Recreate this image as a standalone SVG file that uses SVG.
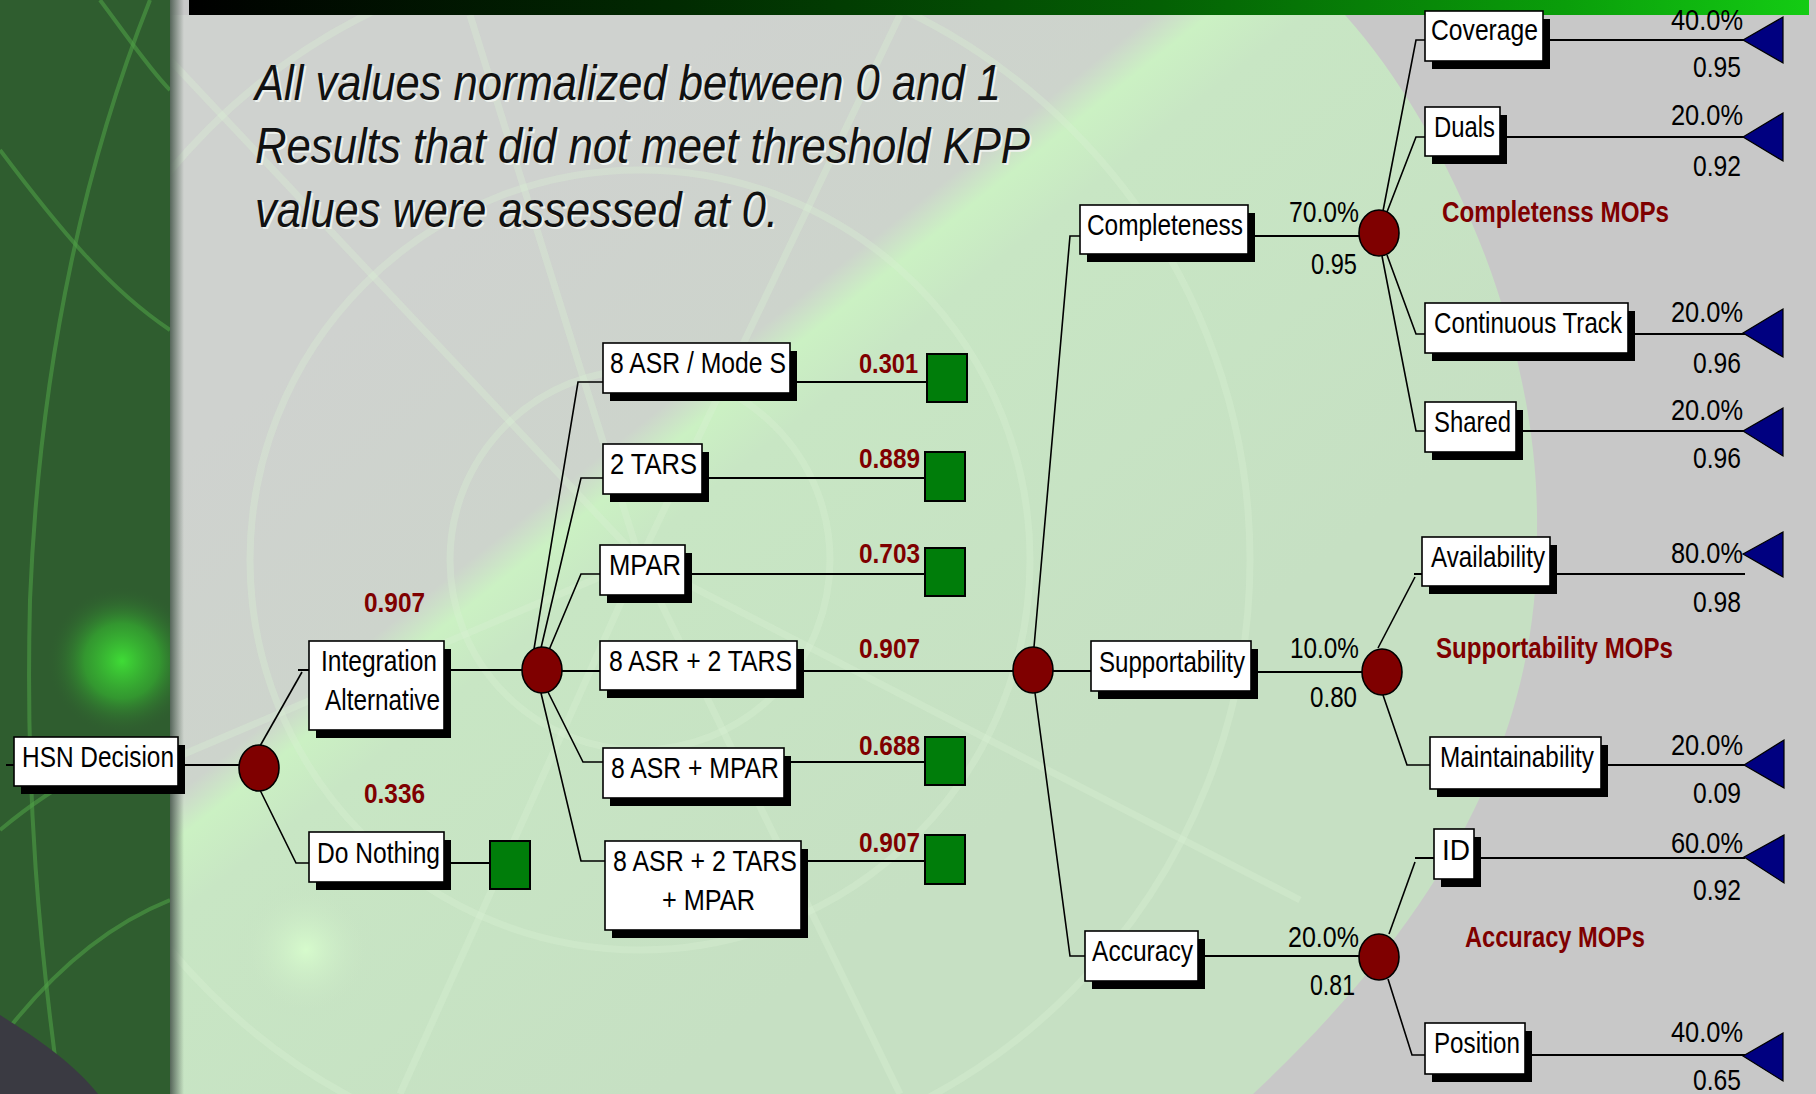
<svg xmlns="http://www.w3.org/2000/svg" width="1816" height="1094" viewBox="0 0 1816 1094">
<style>
.lbl{font-family:"Liberation Sans",Arial,sans-serif;font-size:29px;fill:#000;}
.val{font-family:"Liberation Sans",Arial,sans-serif;font-size:28px;font-weight:bold;fill:#7f0000;}
.mop{font-family:"Liberation Sans",Arial,sans-serif;font-size:29px;font-weight:bold;fill:#7f0000;}
.pct{font-family:"Liberation Sans",Arial,sans-serif;font-size:29px;fill:#000;}
.title{font-family:"Liberation Sans",Arial,sans-serif;font-size:50px;font-style:italic;fill:#111;}
.tsh{font-family:"Liberation Sans",Arial,sans-serif;font-size:50px;font-style:italic;fill:#eef2ee;}
.box{fill:#fff;stroke:#000;stroke-width:1.6;}
.sh{fill:#000;}
.chance{fill:#7f0000;stroke:#000;stroke-width:1.6;}
.term{fill:#007d0a;stroke:#000;stroke-width:2;}
.tri{fill:#000080;stroke:#000;stroke-width:1.2;}
.ln{fill:none;stroke:#000;stroke-width:2;}
.dg{fill:none;stroke:#000;stroke-width:1.6;}
.radar{fill:none;stroke:#daf0d4;stroke-width:7;opacity:0.35;}
.sradar{fill:none;stroke:#4e9e46;stroke-width:4;opacity:0.6;}
</style>
<defs>
<linearGradient id="topbar" x1="0" y1="0" x2="1" y2="0">
<stop offset="0" stop-color="#000000"/>
<stop offset="0.3" stop-color="#012a01"/>
<stop offset="0.6" stop-color="#046004"/>
<stop offset="0.85" stop-color="#0a9e0a"/>
<stop offset="1" stop-color="#14cc14"/>
</linearGradient>
<linearGradient id="sweep" gradientUnits="userSpaceOnUse" x1="738" y1="8" x2="1237" y2="633">
<stop offset="0" stop-color="#cfd2cf"/>
<stop offset="0.33" stop-color="#cdd4cc"/>
<stop offset="0.375" stop-color="#cbf1c3"/>
<stop offset="0.45" stop-color="#c8e6c4"/>
<stop offset="1" stop-color="#c6e0c3"/>
</linearGradient>
<linearGradient id="edge" x1="0" y1="0" x2="1" y2="0">
<stop offset="0" stop-color="#56665a"/>
<stop offset="1" stop-color="#56665a" stop-opacity="0"/>
</linearGradient>
<radialGradient id="glow1" cx="122" cy="661" r="75" gradientUnits="userSpaceOnUse">
<stop offset="0" stop-color="#3fdc36"/>
<stop offset="0.5" stop-color="#35b030" stop-opacity="0.7"/>
<stop offset="1" stop-color="#2f5d2f" stop-opacity="0"/>
</radialGradient>
<radialGradient id="glow2" cx="306" cy="950" r="70" gradientUnits="userSpaceOnUse">
<stop offset="0" stop-color="#d6fbcc"/>
<stop offset="1" stop-color="#c6e0c3" stop-opacity="0"/>
</radialGradient>
<clipPath id="mainclip"><rect x="170" y="15" width="1646" height="1079"/></clipPath>
<clipPath id="stripclip"><rect x="0" y="0" width="170" height="1094"/></clipPath>
</defs>

<g id="background">
<rect x="0" y="0" width="1816" height="1094" fill="#c8c8c8"/>
<path d="M170,15 L1345,15 C1440,120 1540,330 1537,530 C1540,720 1460,900 1253,1094 L170,1094 Z" fill="url(#sweep)"/>
<g clip-path="url(#mainclip)">
<circle cx="640" cy="560" r="190" class="radar"/>
<circle cx="640" cy="560" r="390" class="radar"/>
<circle cx="640" cy="560" r="610" class="radar"/>
<line x1="640" y1="560" x2="170" y2="60" class="radar"/>
<line x1="640" y1="560" x2="470" y2="15" class="radar"/>
<line x1="640" y1="560" x2="900" y2="15" class="radar"/>
<line x1="640" y1="560" x2="170" y2="760" class="radar"/>
<line x1="640" y1="560" x2="400" y2="1094" class="radar"/>
<line x1="640" y1="560" x2="900" y2="1094" class="radar"/>
<line x1="640" y1="560" x2="1300" y2="900" class="radar"/>
<circle cx="306" cy="950" r="70" fill="url(#glow2)"/>
</g>
<rect x="0" y="0" width="170" height="1094" fill="#2f5d2f"/>
<g clip-path="url(#stripclip)">
<path d="M150,0 C90,150 40,350 30,600 C25,800 40,950 60,1094" class="sradar"/>
<path d="M0,150 C60,230 110,290 170,330" class="sradar"/>
<path d="M0,830 C60,780 120,750 170,745" class="sradar"/>
<path d="M0,1040 C60,960 120,920 170,900" class="sradar"/>
<path d="M100,0 C130,40 150,70 170,90" class="sradar"/>
<circle cx="122" cy="661" r="75" fill="url(#glow1)"/>
<path d="M0,1015 C40,1040 75,1065 98,1094 L0,1094 Z" fill="#3a3a42"/>
</g>
<rect x="170" y="0" width="14" height="1094" fill="url(#edge)"/>
<rect x="189" y="0" width="1620" height="15" fill="url(#topbar)"/>
</g>

<g id="title">
<text class="tsh" x="257" y="102" textLength="746" lengthAdjust="spacingAndGlyphs">All values normalized between 0 and 1</text>
<text class="tsh" x="257" y="165" textLength="775" lengthAdjust="spacingAndGlyphs">Results that did not meet threshold KPP</text>
<text class="tsh" x="257" y="229" textLength="523" lengthAdjust="spacingAndGlyphs">values were assessed at 0.</text>
<text class="title" x="255" y="100" textLength="746" lengthAdjust="spacingAndGlyphs">All values normalized between 0 and 1</text>
<text class="title" x="255" y="163" textLength="775" lengthAdjust="spacingAndGlyphs">Results that did not meet threshold KPP</text>
<text class="title" x="255" y="227" textLength="523" lengthAdjust="spacingAndGlyphs">values were assessed at 0.</text>
</g>

<g id="connectors">
<line x1="6" y1="765" x2="14" y2="765" class="ln"/>
<line x1="178" y1="765" x2="240" y2="765" class="ln"/>
<polyline points="260,746 302,672" class="dg"/>
<line x1="298" y1="670" x2="309" y2="670" class="ln"/>
<polyline points="260,790 296,863 309,863" class="dg"/>
<line x1="444" y1="670" x2="523" y2="670" class="ln"/>
<line x1="444" y1="863" x2="490" y2="863" class="ln"/>
<polyline points="534,649 578,382 603,382" class="dg"/>
<polyline points="541,648 581,478 603,478" class="dg"/>
<polyline points="549,650 581,574 600,574" class="dg"/>
<line x1="561" y1="671" x2="600" y2="671" class="ln"/>
<polyline points="548,692 583,762 603,762" class="dg"/>
<polyline points="541,693 581,861 605,861" class="dg"/>
<line x1="790" y1="382" x2="927" y2="382" class="ln"/>
<line x1="702" y1="478" x2="925" y2="478" class="ln"/>
<line x1="685" y1="574" x2="925" y2="574" class="ln"/>
<line x1="797" y1="671" x2="1014" y2="671" class="ln"/>
<line x1="784" y1="762" x2="925" y2="762" class="ln"/>
<line x1="801" y1="861" x2="925" y2="861" class="ln"/>
<polyline points="1034,647 1070,236 1080,236" class="dg"/>
<line x1="1052" y1="671" x2="1091" y2="671" class="ln"/>
<polyline points="1035,693 1070,956 1085,956" class="dg"/>
<line x1="1248" y1="236" x2="1360" y2="236" class="ln"/>
<line x1="1251" y1="672" x2="1363" y2="672" class="ln"/>
<line x1="1198" y1="956" x2="1360" y2="956" class="ln"/>
<polyline points="1383,211 1416,40 1425,40" class="dg"/>
<polyline points="1387,212 1416,137 1425,137" class="dg"/>
<polyline points="1387,255 1416,334 1425,334" class="dg"/>
<polyline points="1382,256 1416,431 1425,431" class="dg"/>
<polyline points="1378,648 1415,577" class="dg"/>
<line x1="1414" y1="574" x2="1422" y2="574" class="ln"/>
<polyline points="1383,695 1407,765 1430,765" class="dg"/>
<polyline points="1389,934 1415,862" class="dg"/>
<line x1="1415" y1="858" x2="1434" y2="858" class="ln"/>
<polyline points="1388,979 1412,1055 1425,1055" class="dg"/>
<line x1="1543" y1="40" x2="1745" y2="40" class="ln"/>
<line x1="1500" y1="137" x2="1745" y2="137" class="ln"/>
<line x1="1628" y1="334" x2="1745" y2="334" class="ln"/>
<line x1="1516" y1="431" x2="1745" y2="431" class="ln"/>
<line x1="1550" y1="574" x2="1745" y2="574" class="ln"/>
<line x1="1601" y1="765" x2="1745" y2="765" class="ln"/>
<line x1="1474" y1="858" x2="1745" y2="858" class="ln"/>
<line x1="1525" y1="1055" x2="1745" y2="1055" class="ln"/>
</g>

<g id="node-hsn"><rect class="sh" x="21" y="745" width="164" height="49"/><rect class="box" x="14" y="737" width="164" height="49"/><text class="lbl" x="22" y="767" textLength="152" lengthAdjust="spacingAndGlyphs">HSN Decision</text></g>
<g id="node-chance1"><ellipse class="chance" cx="259" cy="768" rx="20" ry="23"/></g>
<g id="node-integration"><rect class="sh" x="316" y="649" width="135" height="89"/><rect class="box" x="309" y="641" width="135" height="89"/><text class="lbl" x="321" y="671" textLength="116" lengthAdjust="spacingAndGlyphs">Integration</text><text class="lbl" x="325" y="710" textLength="115" lengthAdjust="spacingAndGlyphs">Alternative</text><text class="val" x="364" y="612" textLength="61" lengthAdjust="spacingAndGlyphs">0.907</text></g>
<g id="node-donothing"><rect class="sh" x="316" y="840" width="135" height="50"/><rect class="box" x="309" y="832" width="135" height="50"/><text class="lbl" x="317" y="863" textLength="123" lengthAdjust="spacingAndGlyphs">Do Nothing</text><text class="val" x="364" y="803" textLength="61" lengthAdjust="spacingAndGlyphs">0.336</text></g>
<g id="node-donothing-end"><rect class="term" x="490" y="841" width="40" height="48"/></g>
<g id="node-chance2"><ellipse class="chance" cx="542" cy="670" rx="20" ry="23"/></g>

<g id="node-modes"><rect class="sh" x="610" y="351" width="187" height="50"/><rect class="box" x="603" y="343" width="187" height="50"/><text class="lbl" x="610" y="373" textLength="176" lengthAdjust="spacingAndGlyphs">8 ASR / Mode S</text><text class="val" x="859" y="373" textLength="59" lengthAdjust="spacingAndGlyphs">0.301</text><rect class="term" x="927" y="354" width="40" height="48"/></g>
<g id="node-2tars"><rect class="sh" x="610" y="452" width="99" height="50"/><rect class="box" x="603" y="444" width="99" height="50"/><text class="lbl" x="610" y="474" textLength="87" lengthAdjust="spacingAndGlyphs">2 TARS</text><text class="val" x="859" y="468" textLength="61" lengthAdjust="spacingAndGlyphs">0.889</text><rect class="term" x="925" y="452" width="40" height="49"/></g>
<g id="node-mpar"><rect class="sh" x="607" y="553" width="85" height="50"/><rect class="box" x="600" y="545" width="85" height="50"/><text class="lbl" x="609" y="575" textLength="72" lengthAdjust="spacingAndGlyphs">MPAR</text><text class="val" x="859" y="563" textLength="61" lengthAdjust="spacingAndGlyphs">0.703</text><rect class="term" x="925" y="548" width="40" height="48"/></g>
<g id="node-asr2tars"><rect class="sh" x="607" y="649" width="197" height="49"/><rect class="box" x="600" y="641" width="197" height="49"/><text class="lbl" x="609" y="671" textLength="183" lengthAdjust="spacingAndGlyphs">8 ASR + 2 TARS</text><text class="val" x="859" y="658" textLength="61" lengthAdjust="spacingAndGlyphs">0.907</text></g>
<g id="node-asrmpar"><rect class="sh" x="610" y="756" width="181" height="50"/><rect class="box" x="603" y="748" width="181" height="50"/><text class="lbl" x="611" y="778" textLength="168" lengthAdjust="spacingAndGlyphs">8 ASR + MPAR</text><text class="val" x="859" y="755" textLength="61" lengthAdjust="spacingAndGlyphs">0.688</text><rect class="term" x="925" y="737" width="40" height="48"/></g>
<g id="node-asr2tarsmpar"><rect class="sh" x="612" y="849" width="196" height="89"/><rect class="box" x="605" y="841" width="196" height="89"/><text class="lbl" x="613" y="871" textLength="184" lengthAdjust="spacingAndGlyphs">8 ASR + 2 TARS</text><text class="lbl" x="662" y="910" textLength="93" lengthAdjust="spacingAndGlyphs">+ MPAR</text><text class="val" x="859" y="852" textLength="61" lengthAdjust="spacingAndGlyphs">0.907</text><rect class="term" x="925" y="835" width="40" height="49"/></g>

<g id="node-chance3"><ellipse class="chance" cx="1033" cy="670" rx="20" ry="23"/></g>

<g id="node-completeness"><rect class="sh" x="1087" y="213" width="168" height="49"/><rect class="box" x="1080" y="205" width="168" height="49"/><text class="lbl" x="1087" y="235" textLength="156" lengthAdjust="spacingAndGlyphs">Completeness</text><text class="pct" x="1289" y="222" textLength="70" lengthAdjust="spacingAndGlyphs">70.0%</text><text class="pct" x="1311" y="274" textLength="46" lengthAdjust="spacingAndGlyphs">0.95</text></g>
<g id="node-supportability"><rect class="sh" x="1098" y="649" width="160" height="50"/><rect class="box" x="1091" y="641" width="160" height="50"/><text class="lbl" x="1099" y="672" textLength="146" lengthAdjust="spacingAndGlyphs">Supportability</text><text class="pct" x="1290" y="658" textLength="69" lengthAdjust="spacingAndGlyphs">10.0%</text><text class="pct" x="1310" y="707" textLength="47" lengthAdjust="spacingAndGlyphs">0.80</text></g>
<g id="node-accuracy"><rect class="sh" x="1092" y="939" width="113" height="50"/><rect class="box" x="1085" y="931" width="113" height="50"/><text class="lbl" x="1092" y="961" textLength="101" lengthAdjust="spacingAndGlyphs">Accuracy</text><text class="pct" x="1288" y="947" textLength="71" lengthAdjust="spacingAndGlyphs">20.0%</text><text class="pct" x="1310" y="995" textLength="45" lengthAdjust="spacingAndGlyphs">0.81</text></g>

<g id="node-c1"><ellipse class="chance" cx="1379" cy="233" rx="20" ry="23"/><text class="mop" x="1442" y="222" textLength="227" lengthAdjust="spacingAndGlyphs">Completenss MOPs</text></g>
<g id="node-c2"><ellipse class="chance" cx="1382" cy="672" rx="20" ry="23"/><text class="mop" x="1436" y="658" textLength="237" lengthAdjust="spacingAndGlyphs">Supportability MOPs</text></g>
<g id="node-c3"><ellipse class="chance" cx="1379" cy="957" rx="20" ry="23"/><text class="mop" x="1465" y="947" textLength="180" lengthAdjust="spacingAndGlyphs">Accuracy MOPs</text></g>

<g id="node-coverage"><rect class="sh" x="1432" y="19" width="118" height="50"/><rect class="box" x="1425" y="11" width="118" height="50"/><text class="lbl" x="1431" y="40" textLength="107" lengthAdjust="spacingAndGlyphs">Coverage</text><text class="pct" x="1671" y="30" textLength="72" lengthAdjust="spacingAndGlyphs">40.0%</text><text class="pct" x="1693" y="77" textLength="48" lengthAdjust="spacingAndGlyphs">0.95</text><polygon class="tri" points="1743,40 1783,17 1783,63"/></g>
<g id="node-duals"><rect class="sh" x="1432" y="115" width="75" height="49"/><rect class="box" x="1425" y="107" width="75" height="49"/><text class="lbl" x="1434" y="137" textLength="61" lengthAdjust="spacingAndGlyphs">Duals</text><text class="pct" x="1671" y="125" textLength="72" lengthAdjust="spacingAndGlyphs">20.0%</text><text class="pct" x="1693" y="176" textLength="48" lengthAdjust="spacingAndGlyphs">0.92</text><polygon class="tri" points="1743,137 1783,113 1783,161"/></g>
<g id="node-continuous"><rect class="sh" x="1432" y="311" width="203" height="50"/><rect class="box" x="1425" y="303" width="203" height="50"/><text class="lbl" x="1434" y="333" textLength="188" lengthAdjust="spacingAndGlyphs">Continuous Track</text><text class="pct" x="1671" y="322" textLength="72" lengthAdjust="spacingAndGlyphs">20.0%</text><text class="pct" x="1693" y="373" textLength="48" lengthAdjust="spacingAndGlyphs">0.96</text><polygon class="tri" points="1743,333 1783,309 1783,357"/></g>
<g id="node-shared"><rect class="sh" x="1432" y="410" width="91" height="50"/><rect class="box" x="1425" y="402" width="91" height="50"/><text class="lbl" x="1434" y="432" textLength="77" lengthAdjust="spacingAndGlyphs">Shared</text><text class="pct" x="1671" y="420" textLength="72" lengthAdjust="spacingAndGlyphs">20.0%</text><text class="pct" x="1693" y="468" textLength="48" lengthAdjust="spacingAndGlyphs">0.96</text><polygon class="tri" points="1743,431 1783,408 1783,456"/></g>
<g id="node-availability"><rect class="sh" x="1429" y="545" width="128" height="49"/><rect class="box" x="1422" y="537" width="128" height="49"/><text class="lbl" x="1431" y="567" textLength="114" lengthAdjust="spacingAndGlyphs">Availability</text><text class="pct" x="1671" y="563" textLength="72" lengthAdjust="spacingAndGlyphs">80.0%</text><text class="pct" x="1693" y="612" textLength="48" lengthAdjust="spacingAndGlyphs">0.98</text><polygon class="tri" points="1743,554 1783,532 1783,577"/></g>
<g id="node-maintainability"><rect class="sh" x="1437" y="745" width="171" height="52"/><rect class="box" x="1430" y="737" width="171" height="52"/><text class="lbl" x="1440" y="767" textLength="154" lengthAdjust="spacingAndGlyphs">Maintainability</text><text class="pct" x="1671" y="755" textLength="72" lengthAdjust="spacingAndGlyphs">20.0%</text><text class="pct" x="1693" y="803" textLength="48" lengthAdjust="spacingAndGlyphs">0.09</text><polygon class="tri" points="1744,765 1784,740 1784,788"/></g>
<g id="node-id"><rect class="sh" x="1441" y="837" width="40" height="50"/><rect class="box" x="1434" y="829" width="40" height="50"/><text class="lbl" x="1442" y="860" textLength="28" lengthAdjust="spacingAndGlyphs">ID</text><text class="pct" x="1671" y="853" textLength="72" lengthAdjust="spacingAndGlyphs">60.0%</text><text class="pct" x="1693" y="900" textLength="48" lengthAdjust="spacingAndGlyphs">0.92</text><polygon class="tri" points="1744,857 1784,835 1784,883"/></g>
<g id="node-position"><rect class="sh" x="1432" y="1031" width="100" height="51"/><rect class="box" x="1425" y="1023" width="100" height="51"/><text class="lbl" x="1434" y="1053" textLength="86" lengthAdjust="spacingAndGlyphs">Position</text><text class="pct" x="1671" y="1042" textLength="72" lengthAdjust="spacingAndGlyphs">40.0%</text><text class="pct" x="1693" y="1090" textLength="48" lengthAdjust="spacingAndGlyphs">0.65</text><polygon class="tri" points="1743,1056 1783,1033 1783,1081"/></g>
</svg>
